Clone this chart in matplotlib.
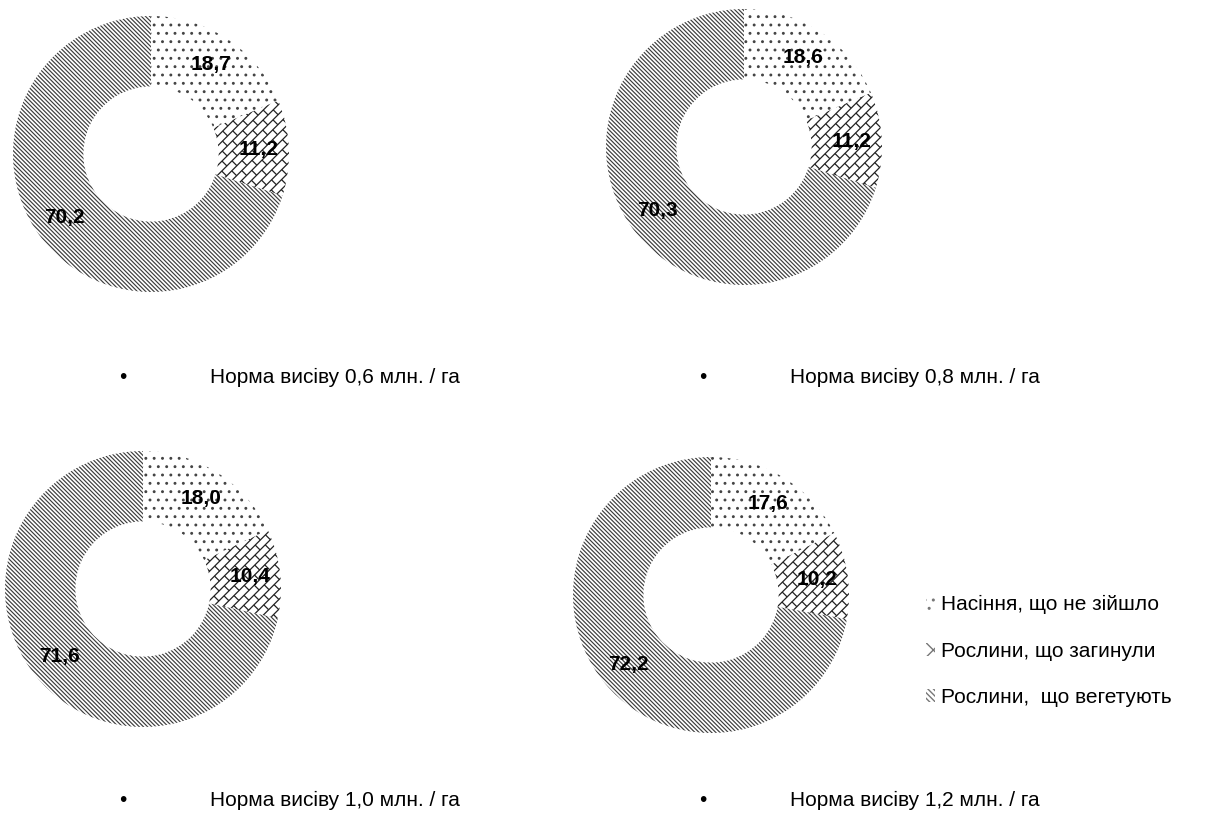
import matplotlib
matplotlib.use("Agg")
import matplotlib.pyplot as plt
import numpy as np
from matplotlib.collections import LineCollection
from matplotlib.patches import Patch

plt.rcParams['font.family'] = ['Liberation Sans', 'DejaVu Sans']
plt.rcParams['hatch.linewidth'] = 1.0

# data: share of seeds (%) for each sowing rate
rates = ["0,6", "0,8", "1,0", "1,2"]
not_emerged = [18.7, 18.6, 18.0, 17.6]
died = [11.2, 11.2, 10.4, 10.2]
vegetating = [70.2, 70.3, 71.6, 72.2]
categories = ["Насіння, що не зійшло", "Рослини, що загинули", "Рослини,  що вегетують"]

W, H = 1211, 818
# donut centres / radius in pixels (layout only)
centres = [(151, 154), (744, 147), (143, 589), (711, 595)]
R_PX = 138
captions_xy = [(123, 377), (703, 377), (123, 800), (703, 800)]

hatches = ['..', None, '\\' * 8]
hatch_col = '#3c3c3c'
TXT = 15


def brick_lines(h=0.05, L=0.105, ext=1.3):
    """Diagonal brick pattern as segments in data units."""
    c = s = np.sqrt(0.5)
    segs = []
    ks = np.arange(int(-ext / h) - 1, int(ext / h) + 2)
    for k in ks:
        v = k * h
        segs.append([(-ext, v), (ext, v)])
        off = (k % 2) * L / 2
        for u in np.arange(-ext - L, ext + L, L) + off:
            segs.append([(u, v), (u, v + h)])
    segs = np.array(segs)
    u, v = segs[..., 0], segs[..., 1]
    return np.stack([u * c - v * s, u * s + v * c], -1)


fig = plt.figure(figsize=(W / 100, H / 100), dpi=100)

for i, rate in enumerate(rates):
    cx, cy = centres[i]
    ax = fig.add_axes([(cx - R_PX) / W, (H - cy - R_PX) / H, 2 * R_PX / W, 2 * R_PX / H])
    vals = [not_emerged[i], died[i], vegetating[i]]
    labels = [f"{v:.1f}".replace('.', ',') for v in vals]
    wedges, texts = ax.pie(vals, labels=labels, startangle=90, counterclock=False,
                           labeldistance=0.78, radius=1,
                           wedgeprops=dict(width=0.51, facecolor='white',
                                           edgecolor=hatch_col, linewidth=0))
    for w, hp in zip(wedges, hatches):
        if hp:
            w.set_hatch(hp)
    wedges[0].set_edgecolor('#444444')
    if hasattr(wedges[0], 'set_hatch_linewidth'):
        wedges[0].set_hatch_linewidth(0.9)
        wedges[2].set_hatch_linewidth(0.85)
    lc = LineCollection(brick_lines(), colors='#222222', linewidths=0.9)
    ax.add_collection(lc)
    lc.set_clip_path(wedges[1])
    for t in texts:
        t.set_ha('center'); t.set_va('center')
        t.set_fontsize(15); t.set_fontweight('bold'); t.set_zorder(5)
    ax.set_xlim(-1, 1); ax.set_ylim(-1, 1)
    ax.set_aspect('auto')
    ax.axis('off')

    bx, by = captions_xy[i]
    fig.text(bx / W, 1 - by / H, "•", fontsize=TXT, ha='center', va='center')
    fig.text((bx + 87) / W, 1 - by / H, f"Норма висіву {rate} млн. / га",
             fontsize=TXT, ha='left', va='center')

handles = [Patch(facecolor='white', edgecolor='#777777', hatch='..', linewidth=0),
           Patch(facecolor='white', edgecolor='#777777', hatch='xx', linewidth=0),
           Patch(facecolor='white', edgecolor='#777777', hatch='\\' * 6, linewidth=0)]
fig.legend(handles, categories, loc='center left',
           bbox_to_anchor=(926 / W, 1 - 651 / H), frameon=False,
           fontsize=TXT, handlelength=0.45, handleheight=0.6,
           handletextpad=0.25, labelspacing=1.3, borderpad=0, borderaxespad=0)

fig.savefig("out.png", dpi=100)
